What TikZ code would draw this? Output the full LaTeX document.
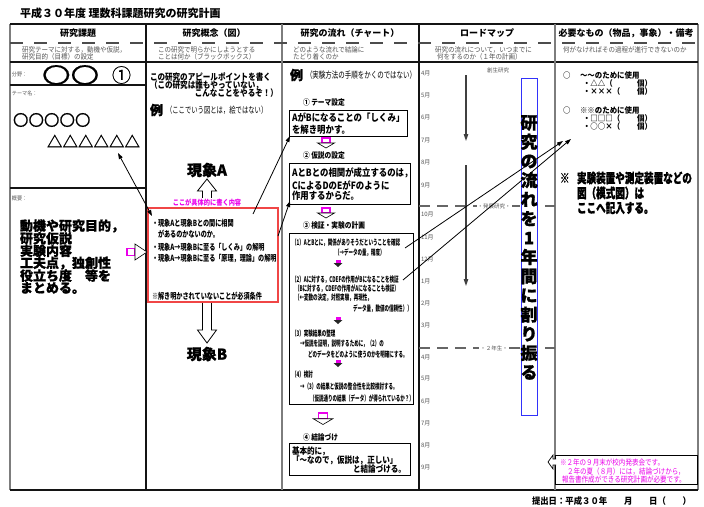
\documentclass[tikz,border=0pt]{standalone}
\usepackage{fontspec}
\setmainfont{Noto Sans CJK JP}
\newfontfamily\sA[FakeStretch=0.72]{Noto Sans CJK JP}
\newfontfamily\sAA[FakeStretch=0.58]{Noto Sans CJK JP}
\newfontfamily\sB[FakeStretch=0.84]{Noto Sans CJK JP}
\newfontfamily\sC[FakeStretch=0.93]{Noto Sans CJK JP}
\newfontfamily\sW[FakeStretch=1.3,FakeBold=0.6]{Noto Sans CJK JP}
\newfontfamily\sH[FakeBold=1.0]{Noto Sans CJK JP}
\newfontfamily\sL[FakeBold=0.5]{Noto Sans CJK JP}
\newfontfamily\sAH[FakeStretch=0.72,FakeBold=1]{Noto Sans CJK JP}
\usetikzlibrary{arrows.meta}
\definecolor{gline}{RGB}{125,125,125}
\definecolor{dline}{RGB}{20,20,20}
\definecolor{subg}{RGB}{85,85,85}
\definecolor{mag}{RGB}{235,0,235}
\definecolor{boxred}{RGB}{240,70,70}
\definecolor{vblue}{RGB}{50,50,250}
\newcommand{\fsz}[1]{\fontsize{#1}{#1}\selectfont}
\tikzset{
  txt/.style={inner sep=0pt,outer sep=0pt},
  lt/.style={txt,anchor=west},
  rt/.style={txt,anchor=east},
  ct/.style={txt,anchor=center},
  gframe/.style={line width=1.4pt,gline},
  bframe/.style={line width=1.4pt,dline},
  hdr/.style={ct,font=\bfseries\fsz{9}},
  subt/.style={lt,text=subg,font=\sC\fsz{7}},
  lab/.style={lt,text=subg,font=\sC\fsz{5.5}},
  bigt/.style={lt,font=\sH\bfseries\fsz{13}},
  c2t/.style={lt,font=\sB\bfseries\fsz{9}},
  rbt/.style={lt,font=\sA\bfseries\fsz{8.5}},
  c3h/.style={lt,font=\sB\bfseries\fsz{8}},
  bxt/.style={lt,font=\sB\bfseries\fsz{10}},
  b3t/.style={lt,font=\sAA\bfseries\fsz{7.8}},
  mon/.style={lt,text=subg,font=\fsz{6}},
  c5t/.style={lt,font=\sC\bfseries\fsz{8}},
  notet/.style={lt,font=\sAH\bfseries\fsz{13.3}},
  callt/.style={lt,text=mag,font=\sB\fsz{7.8}},
  arr/.style={-{Triangle[length=6pt,width=4pt]},line width=0.8pt},
  arr2/.style={{Triangle[length=6pt,width=4pt]}-{Triangle[length=6pt,width=4pt]},line width=0.8pt},
  vline/.style={-{Triangle[length=7pt,width=4.5pt]},line width=1.1pt,black!75},
  magarrow/.pic={
    \draw[mag,line width=1.3pt,fill=white] (-4,0) rectangle (4,5);
    \draw[black,line width=0.6pt,fill=white] (-8.5,5) -- (8.5,5) -- (0,10) -- cycle;
  },
  smarrow/.pic={
    \fill[mag] (-2.5,0) rectangle (2.5,3);
    \fill[black!85] (-4.5,3) -- (4.5,3) -- (0,7) -- cycle;
  },
  cbox/.style={draw=black,line width=1pt,fill=white},
}
\begin{document}
\begin{tikzpicture}[x=1pt,y=-1pt]
\useasboundingbox (0,0) rectangle (704,506);
\fill[white] (0,0) rectangle (704,506);

% title
\node[lt,font=\bfseries\fsz{11}] (title) at (20,13) {平成３０年度 理数科課題研究の研究計画};

% frame
\draw[gframe] (10,24) -- (10,490);
\draw[gframe] (698,24) -- (698,490);
\draw[bframe] (10,24) -- (698,24);
\draw[bframe] (10,490) -- (698,490);
\draw[bframe] (10,62) -- (698,62);
\draw[bframe] (146,24) -- (146,490);
\draw[gframe] (282,24) -- (282,490);
\draw[bframe] (419,24) -- (419,490);
\draw[gframe] (555,24) -- (555,490);
\draw[line width=1.3pt,black!70,dash pattern=on 13pt off 11pt] (10,43) -- (698,43);
\draw[line width=1.2pt,dline] (10,85) -- (146,85);
\draw[line width=1.2pt,dline] (10,188) -- (146,188);

% header
\node[hdr] (h1) at (78,33) {研究課題};
\node[hdr] (h2) at (214,33) {研究概念（図）};
\node[hdr] (h3) at (350,33) {研究の流れ（チャート）};
\node[hdr] (h4) at (487,33) {ロードマップ};
\node[hdr] (h5) at (626,33) {必要なもの（物品，事象）・備考};
\node[subt] (s1a) at (22,50) {研究テーマに対する，動機や仮説，};
\node[subt] (s1b) at (22,57) {研究目的（目標）の設定};
\node[subt] (s2a) at (158,50) {この研究で明らかにしようとする};
\node[subt] (s2b) at (158,57) {ことは何か（ブラックボックス）};
\node[subt] (s3a) at (293,50) {どのような流れで結論に};
\node[subt] (s3b) at (293,57) {たどり着くのか};
\node[subt] (s4a) at (435,50) {研究の流れについて，いつまでに};
\node[subt] (s4b) at (437,57) {何をするのか（１年の計画）};
\node[subt] (s5a) at (563,50) {何がなければその過程が進行できないのか};

% column 1
\node[lab] (bunya) at (12,74) {分野：};
\node[lt,font=\sW\fsz{22}] (circ2) at (42,75) {〇〇};
\node[lt,font=\sL\fsz{19}] (maru1) at (112,75) {①};
\node[lab] (theme) at (12,93) {テーマ名：};
\node[lt,font=\sL\fsz{15.5}] (circ5) at (13,120) {〇〇〇〇〇};
\node[lt,font=\sL\bfseries\fsz{15.5}] (tri6) at (47,141) {△△△△△△};
\node[lab] (gaiyo) at (12,198) {概要：};
\foreach \t [count=\i] in {動機や研究目的，,研究仮説,実験内容,工夫点，独創性,役立ち度　等を,まとめる。}
  \node[bigt] (g\i) at (20,{226+12.4*(\i-1)}) {\t};

% column 2
\node[c2t] (ap1) at (150,77) {この研究のアピールポイントを書く};
\node[c2t] (ap2) at (150,85) {（この研究は誰もやっていない，};
\node[rt,font=\sB\bfseries\fsz{9}] (ap3) at (278,93) {こんなことをやるぞ！）};
\node[lt,font=\sH\bfseries\fsz{13}] (rei2) at (150,110) {例};
\node[lt,font=\sA\fsz{8.8}] (rei2t) at (166,110) {（ここでいう図とは，絵ではない）};
\node[ct,font=\sH\bfseries\fsz{15}] (phA) at (207,170) {現象A};
\node[ct,font=\sH\bfseries\fsz{15}] (phB) at (207,354) {現象B};
\draw[line width=0.8pt,fill=white] (207,179) -- (216.5,191) -- (211.5,191) -- (211.5,330) -- (216.5,330)
   -- (207,343) -- (197.5,330) -- (202.5,330) -- (202.5,191) -- (197.5,191) -- cycle;
\node[ct,fill=white,inner sep=1pt,text=mag,font=\sB\bfseries\fsz{7.4}] (gutai) at (207,203) {ここが具体的に書く内容};
\draw[boxred,line width=1.2pt,fill=white] (148,208) rectangle (278,302);
\node[rbt] (r1) at (152,223) {・現象Aと現象Bとの間に相関};
\node[rbt] (r2) at (158,234) {があるのかないのか。};
\node[rbt] (r3) at (152,247) {・現象A→現象Bに至る「しくみ」の解明};
\node[rbt] (r4) at (152,259) {・現象A→現象Bに至る「原理，理論」の解明};
\node[rbt] (r5) at (152,296) {※解き明かされていないことが必須条件};

% block arrow col1 -> col2
\draw[mag,line width=1.3pt,fill=white] (127,248.5) rectangle (135,255.5);
\draw[black,line width=0.6pt,fill=white] (135,244) -- (147,252) -- (135,260) -- cycle;

% column 3
\node[lt,font=\sH\bfseries\fsz{13}] (rei3) at (290,75) {例};
\node[lt,font=\sA\fsz{9}] (rei3t) at (306,75) {（実験方法の手順をかくのではない）};
\node[c3h] (st1) at (303,102) {① テーマ設定};
\draw[cbox] (289,110) rectangle (407,136);
\node[bxt] (b1a) at (292,118) {AがBになることの「しくみ」};
\node[bxt] (b1b) at (292,130) {を解き明かす。};
\pic at (326,138) {magarrow};
\node[c3h] (st2) at (303,155) {② 仮説の設定};
\draw[cbox] (289,163) rectangle (410,204);
\node[bxt] (b2a) at (292,173) {AとBとの相関が成立するのは，};
\node[bxt] (b2b) at (292,185) {CによるDのEがFのように};
\node[bxt] (b2c) at (292,196) {作用するからだ。};
\pic at (326,208) {magarrow};
\node[c3h] (st3) at (303,225) {③ 検証・実験の計画};
\draw[cbox] (289,233) rectangle (413,404);
\node[b3t] (k1) at (292,243) {（1）AとBとに，関係がありそうだということを確認};
\node[b3t] (k2) at (335,253) {（→データの量，精度）};
\pic at (338,260) {smarrow};
\node[b3t] (k3) at (292,280) {（2）Aに対する，CDEFの作用がBになることを検証};
\node[b3t] (k4) at (295,289) {（Bに対する，CDEFの作用がAになることも検証）};
\node[b3t] (k5) at (295,298) {（←変数の決定，対照実験，再現性，};
\node[b3t] (k6) at (353,309) {データ量，数値の信頼性））};
\pic at (338,317) {smarrow};
\node[b3t] (k7) at (292,334) {（3）実験結果の整理};
\node[b3t] (k8) at (300,344) {→仮説を証明，説明するために，（2）の};
\node[b3t] (k9) at (308,354) {どのデータをどのように使うのかを明確にする。};
\pic at (338,360) {smarrow};
\node[b3t] (k10) at (292,375) {（4）検討};
\node[b3t] (k11) at (300,387) {→（3）の結果と仮説の整合性を比較検討する。};
\node[b3t] (k12) at (310,398) {（仮説通りの結果（データ）が得られているか？）};
\pic[scale=1.15] at (323,413) {magarrow};
\node[c3h] (st4) at (303,437) {④ 結論づけ};
\draw[cbox] (289,443) rectangle (410,475);
\node[lt,font=\sB\bfseries\fsz{9}] (c4a) at (292,451) {基本的に，};
\node[lt,font=\sB\bfseries\fsz{9}] (c4b) at (292,460) {「〜なので，仮説は，正しい」};
\node[rt,font=\sB\bfseries\fsz{9}] (c4c) at (406,469) {と結論づける。};

% column 4
\foreach \m/\yy [count=\i] in {4/73,5/95,6/117,7/140,8/162,9/185,10/214,11/237,12/259,1/281,2/303,3/325,4/357,5/378,6/401,7/423,8/445,9/467}
  \node[mon] (m\i) at (421,\yy) {\m 月};
\node[ct,text=subg,font=\fsz{5.5}] (sosei) at (498,70) {創生研究};
\draw[line width=1.2pt,black!60,dash pattern=on 11pt off 7pt] (419,206) -- (555,206);
\draw[line width=1.2pt,black!60,dash pattern=on 11pt off 7pt] (419,348) -- (555,348);
\node[ct,fill=white,inner sep=1pt,text=subg,font=\fsz{5.5}] (hatten) at (494,206) {・発展研究・};
\node[ct,fill=white,inner sep=1pt,text=subg,font=\fsz{5.5}] (ninen) at (494,348) {・２年生・};
\coordinate (r1s) at (466,75);
\coordinate (r1e) at (466,141);
\coordinate (r2s) at (466,165);
\coordinate (r2e) at (466,286);
\draw[vline] (r1s) -- (r1e);
\draw[vline] (r2s) -- (r2e);
\draw[vblue,line width=1pt,fill=white] (521,78) rectangle (537,415);
\node[ct,align=center,font=\sH\bfseries\fontsize{17}{19.2}\selectfont] (vt) at (529,247.5)
  {研\\究\\の\\流\\れ\\を\\1\\年\\間\\に\\割\\り\\振\\る};

% column 5
\node[c5t] (o1) at (563,75) {○};
\node[c5t] (n1) at (580,75) {〜〜のために使用};
\node[c5t] (n1a) at (583,83) {・△△（};
\node[rt,font=\sC\bfseries\fsz{8}] (n1ak) at (652,83) {個）};
\node[c5t] (n1b) at (583,91) {・×××（};
\node[rt,font=\sC\bfseries\fsz{8}] (n1bk) at (652,91) {個）};
\node[c5t] (o2) at (563,110) {○};
\node[c5t] (n2) at (580,110) {※※のために使用};
\node[c5t] (n2a) at (583,118) {・□□□（};
\node[rt,font=\sC\bfseries\fsz{8}] (n2ak) at (652,118) {個）};
\node[c5t] (n2b) at (583,126) {・○○×（};
\node[rt,font=\sC\bfseries\fsz{8}] (n2bk) at (652,126) {個）};
\node[notet] (kome) at (560,178) {※};
\node[notet] (nt1) at (577,178) {実験装置や測定装置などの};
\node[notet] (nt2) at (577,193) {図（模式図）は};
\node[notet] (nt3) at (577,208) {ここへ記入する。};

% callout
\draw[black,line width=0.8pt,fill=white] (555,455) rectangle (697,484);
\draw[black,line width=0.7pt,fill=white] (556,459) -- (553,459) -- (553,455) -- (548,462) -- (553,469) -- (553,465) -- (556,465);
\node[callt] (cl1) at (560,463) {※２年の９月末が校内発表会です。};
\node[callt] (cl2) at (567,472) {２年の夏（８月）には，結論づけから，};
\node[callt] (cl3) at (562,480) {報告書作成ができる研究計画が必要です。};

% connectors
\coordinate (a1s) at (118,153);
\coordinate (a1e) at (152,216);
\draw[arr2] (a1s) -- (a1e);
\coordinate (p1) at (253,214);
\coordinate (q1) at (290,136);
\draw[arr] (p1) -- (q1);
\coordinate (p2) at (278,236);
\coordinate (q2) at (290,201);
\draw[arr] (p2) -- (q2);
\coordinate (p3) at (405,248);
\coordinate (q3) at (563,141);
\draw[arr] (p3) -- (q3);
\coordinate (p4) at (403,280);
\coordinate (q4) at (571,139);
\draw[arr] (p4) -- (q4);

% footer
\node[lt,font=\sC\bfseries\fsz{9}] (foot) at (532,501) {提出日：平成３０年　　月　　日（　　）};
\end{tikzpicture}
\end{document}
